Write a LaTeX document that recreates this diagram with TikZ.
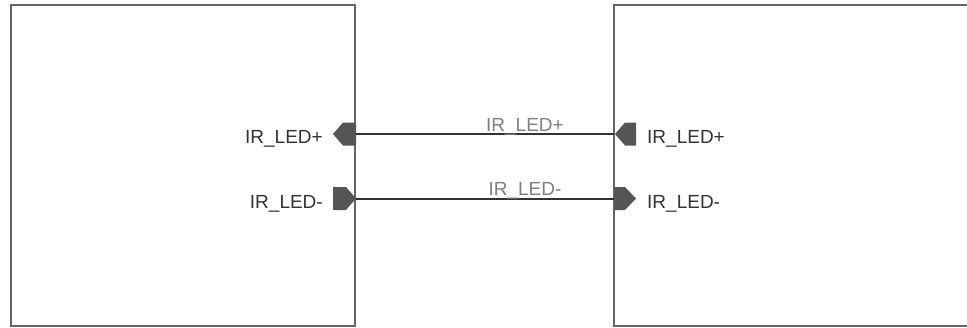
\documentclass[tikz,border=0pt]{standalone}
\usepackage{fontspec}
\setmainfont{Liberation Sans}
\definecolor{boxgray}{HTML}{666666}
\definecolor{portgray}{HTML}{555555}
\definecolor{wiregray}{HTML}{333333}
\definecolor{labgray}{HTML}{808080}
\definecolor{txtgray}{HTML}{333333}
\begin{document}
\begin{tikzpicture}[x=1pt,y=-1pt,
  blockbox/.style={draw=boxgray, line width=2pt, fill=none, inner sep=0pt},
  portfill/.style={fill=portgray, draw=none},
  portlab/.style={font=\fontsize{19}{22}\selectfont, text=txtgray, inner sep=0pt},
  wirelab/.style={font=\fontsize{19}{22}\selectfont, text=labgray, inner sep=0pt},
  wire/.style={draw=wiregray, line width=2pt}]
\useasboundingbox (0,0) rectangle (967,327);
\clip (0,0) rectangle (967,327);
\node[blockbox, minimum width=344pt, minimum height=321pt] (leftbox) at (183,165.5) {};
\node[blockbox, minimum width=400pt, minimum height=321pt] (rightbox) at (814,165.5) {};
% ports
\path[portfill] (333,134) -- (343,122.5) -- (356,122.5) -- (356,145.5) -- (343,145.5) -- cycle;
\path[portfill] (333,187) -- (346,187) -- (356,198.5) -- (346,210) -- (333,210) -- cycle;
\path[portfill] (615,134) -- (625,122.5) -- (636,122.5) -- (636,145.5) -- (625,145.5) -- cycle;
\path[portfill] (614,187) -- (625,187) -- (636,198.5) -- (625,210) -- (614,210) -- cycle;
\coordinate (lp) at (356,134);
\coordinate (lm) at (356,198.5);
\coordinate (rp) at (614,134);
\coordinate (rm) at (614,198.5);
\node[portlab, anchor=base east] (lpl) at (323,143) {IR\_LED+};
\node[portlab, anchor=base east] (lml) at (323,208.5) {IR\_LED-};
\node[portlab, anchor=base west] (rpl) at (647,143) {IR\_LED+};
\node[portlab, anchor=base west] (rml) at (647,208.5) {IR\_LED-};
\draw[wire] (lp) -- node[wirelab, pos=0.655, anchor=base, yshift=3pt] (wp) {IR\_LED+} (rp);
\draw[wire] (lm) -- node[wirelab, pos=0.655, anchor=base, yshift=3.5pt] (wm) {IR\_LED-} (rm);
\end{tikzpicture}
\end{document}
